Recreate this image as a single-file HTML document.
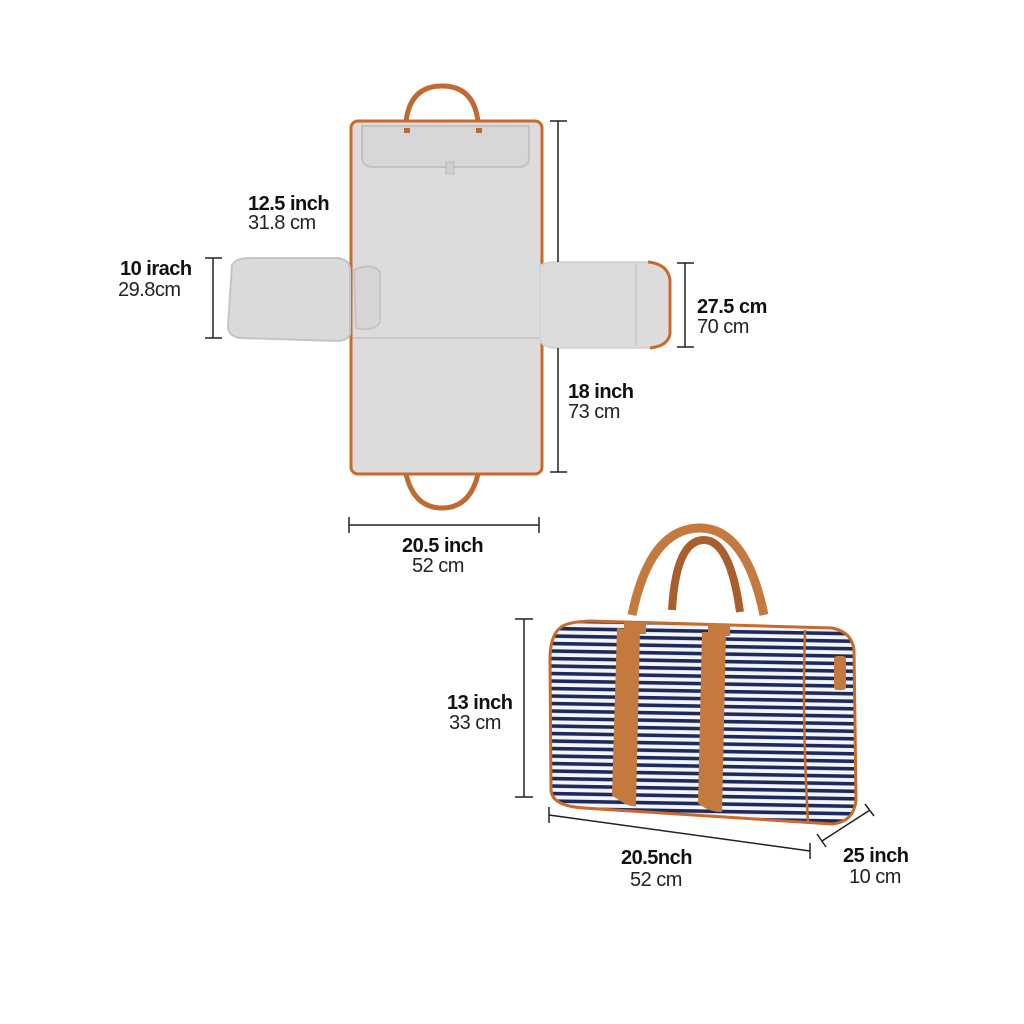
<!DOCTYPE html>
<html><head><style>
html,body{margin:0;padding:0;background:#fff;}
svg{display:block}
.b{font-family:"Liberation Sans",sans-serif;font-weight:bold;font-size:20px;fill:#111;letter-spacing:-0.5px}
.l{font-family:"Liberation Sans",sans-serif;font-size:20px;fill:#222;letter-spacing:-0.5px}
</style></head><body>
<svg width="1024" height="1024" viewBox="0 0 1024 1024" xmlns="http://www.w3.org/2000/svg">
<defs>
<pattern id="st" width="20" height="7.5" patternUnits="userSpaceOnUse" patternTransform="rotate(1)">
<rect width="20" height="7.5" fill="#f4f5f8"/>
<rect width="20" height="3.6" y="2" fill="#1e2a5c"/>
</pattern>
</defs>
<!-- top handles -->
<path d="M406 122 Q410 86 442 86 Q474 86 478 122" fill="none" stroke="#c06a30" stroke-width="5"/>
<path d="M406 474 Q414 508 442 508 Q470 508 478 474" fill="none" stroke="#c06a30" stroke-width="5"/>
<!-- main panel -->
<rect x="351" y="121" width="191" height="353" rx="7" fill="#dcdcdc" stroke="#c8692e" stroke-width="3"/>
<path d="M362 126 H529 V158 Q529 166 520 167 H372 Q362 166 362 158 Z" fill="#d7d7d7" stroke="#c2c2c2" stroke-width="2"/>
<rect x="404" y="128" width="6" height="5" fill="#b86a3a"/>
<rect x="476" y="128" width="6" height="5" fill="#b86a3a"/>
<rect x="446" y="162" width="8" height="12" fill="#cfcfcf" stroke="#bbb"/>
<line x1="353" y1="338" x2="540" y2="338" stroke="#c4c4c4" stroke-width="1.5"/>
<!-- left pouch -->
<path d="M232 265 Q236 258 250 258 H338 Q350 260 350 270 V334 Q348 340 338 341 L240 338 Q228 336 228 326 Z" fill="#dadada" stroke="#c4c4c4" stroke-width="2"/>
<path d="M354 270 Q372 262 380 272 V322 Q374 332 356 328 Z" fill="#d6d6d6" stroke="#c4c4c4" stroke-width="2"/>
<!-- right flap -->
<path d="M540 266 Q544 262 556 262 H650 Q668 264 670 280 V334 Q668 346 650 348 H552 Q540 346 540 338 Z" fill="#dcdcdc" stroke="#d0d0d0" stroke-width="1.5"/>
<path d="M648 262 Q668 264 670 280 V334 Q668 346 650 348" fill="none" stroke="#c8692e" stroke-width="3"/>
<line x1="636" y1="264" x2="636" y2="346" stroke="#c6c6c6" stroke-width="1.5"/>
<!-- dimension lines -->
<g stroke="#222" stroke-width="1.5">
<line x1="213" y1="258" x2="213" y2="338"/><line x1="205" y1="258" x2="222" y2="258"/><line x1="205" y1="338" x2="222" y2="338"/>
<line x1="558" y1="121" x2="558" y2="262"/><line x1="550" y1="121" x2="567" y2="121"/>
<line x1="558" y1="348" x2="558" y2="472"/><line x1="550" y1="472" x2="567" y2="472"/>
<line x1="685" y1="263" x2="685" y2="347"/><line x1="677" y1="263" x2="694" y2="263"/><line x1="677" y1="347" x2="694" y2="347"/>
<line x1="349" y1="525" x2="539" y2="525"/><line x1="349" y1="517" x2="349" y2="533"/><line x1="539" y1="517" x2="539" y2="533"/>
<line x1="524" y1="619" x2="524" y2="797"/><line x1="515" y1="619" x2="533" y2="619"/><line x1="515" y1="797" x2="533" y2="797"/>
<line x1="549" y1="815" x2="810" y2="851"/><line x1="549" y1="807" x2="549" y2="823"/><line x1="810" y1="843" x2="810" y2="859"/>
<line x1="822" y1="841" x2="870" y2="810"/><line x1="817" y1="834" x2="826" y2="847"/><line x1="865" y1="804" x2="874" y2="816"/>
</g>
<!-- duffel handles -->
<path d="M672 610 Q676 540 704 540 Q730 540 740 612" fill="none" stroke="#a85f2c" stroke-width="8"/>
<path d="M632 615 Q650 528 700 528 Q746 528 764 615" fill="none" stroke="#c47a3e" stroke-width="9"/>
<!-- duffel body -->
<path d="M560 628 Q566 622 590 621 L832 628 Q852 632 854 650 L856 800 Q854 822 832 824 L584 808 Q552 806 551 790 L550 660 Q550 636 560 628 Z" fill="url(#st)" stroke="#c8692e" stroke-width="3"/>
<path d="M805 630 Q802 720 808 822" fill="none" stroke="#c8692e" stroke-width="2.5"/>
<path d="M617 628 L640 630 L636 806 Q628 808 612 795 Z" fill="#c47a3e"/>
<path d="M702 632 L726 632 L722 812 Q708 812 698 803 Z" fill="#c47a3e"/>
<rect x="834" y="656" width="12" height="34" rx="3" fill="#c47a3e"/>
<rect x="624" y="622" width="22" height="12" fill="#c47a3e"/><rect x="708" y="624" width="22" height="12" fill="#c47a3e"/>
<!-- text -->
<text class="b" x="248" y="210">12.5 inch</text><text class="l" x="248" y="229">31.8 cm</text>
<text class="b" x="120" y="275">10 irach</text><text class="l" x="118" y="296">29.8cm</text>
<text class="b" x="697" y="313">27.5 cm</text><text class="l" x="697" y="333">70 cm</text>
<text class="b" x="568" y="398">18 inch</text><text class="l" x="568" y="418">73 cm</text>
<text class="b" x="402" y="552">20.5 inch</text><text class="l" x="412" y="572">52 cm</text>
<text class="b" x="447" y="709">13 inch</text><text class="l" x="449" y="729">33 cm</text>
<text class="b" x="621" y="864">20.5nch</text><text class="l" x="630" y="886">52 cm</text>
<text class="b" x="843" y="862">25 inch</text><text class="l" x="849" y="883">10 cm</text>
</svg>
</body></html>
